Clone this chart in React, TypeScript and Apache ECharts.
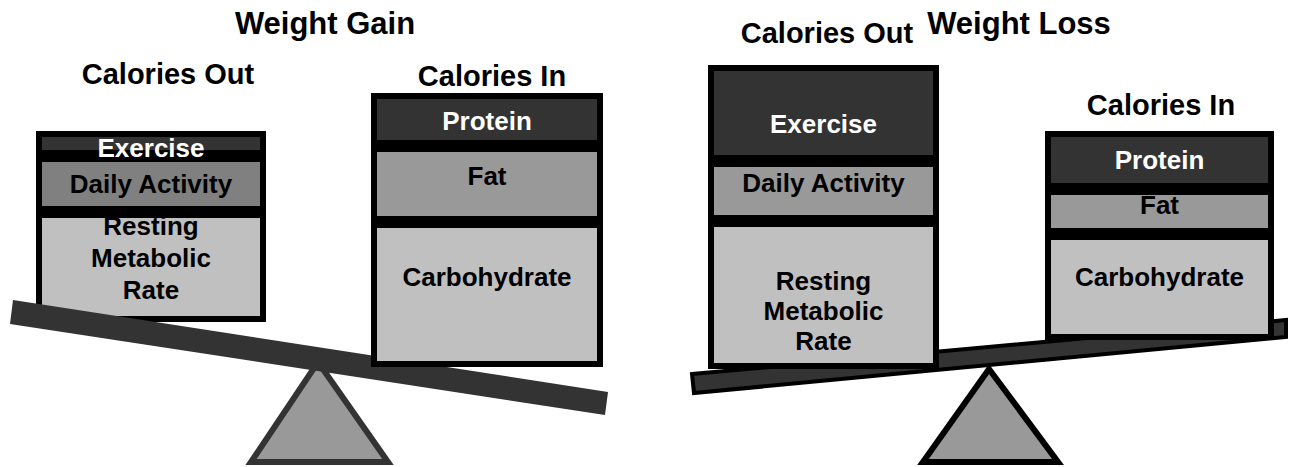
import React, { useEffect, useRef } from 'react';
import * as echarts from 'echarts';

// ---- data ----
const PANEL_TITLES = ['Weight Gain', 'Weight Loss'];
const SIDE_TITLES = ['Calories Out', 'Calories In'];
// segments listed bottom -> top
const OUT_CATEGORIES = ['Resting\nMetabolic\nRate', 'Daily Activity', 'Exercise'];
const IN_CATEGORIES = ['Carbohydrate', 'Fat', 'Protein'];
const GAIN_OUT = [110, 56, 25];
const GAIN_IN = [145, 76, 53];
const LOSS_OUT = [148, 60, 96];
const LOSS_IN = [106, 45, 58];

// ---- layout / style ----
const FONT = '"Liberation Sans", Arial, Helvetica, sans-serif';
const BOXES = [
  { left: 36, top: 131, width: 230, cats: OUT_CATEGORIES, values: GAIN_OUT, colors: ['#c0c0c0', '#808080', '#333333'], dy: [-9, 0, 4], lh: 32, z: 1 },
  { left: 371, top: 93, width: 232, cats: IN_CATEGORIES, values: GAIN_IN, colors: ['#c0c0c0', '#999999', '#333333'], dy: [-18, -8, 1], lh: 30, z: 5 },
  { left: 708, top: 65, width: 231, cats: OUT_CATEGORIES, values: LOSS_OUT, colors: ['#c0c0c0', '#999999', '#333333'], dy: [16, -8, 11], lh: 30, z: 5 },
  { left: 1045, top: 131, width: 229, cats: IN_CATEGORIES, values: LOSS_IN, colors: ['#c0c0c0', '#999999', '#333333'], dy: [-10, -7, 0], lh: 30, z: 5 },
];
const LABEL_COLORS = ['#000000', '#000000', '#ffffff'];

const TEXTS = [
  { text: PANEL_TITLES[0], x: 325, y: 23, size: 31 },
  { text: PANEL_TITLES[1], x: 1019, y: 23, size: 31 },
  { text: SIDE_TITLES[0], x: 168, y: 74, size: 29 },
  { text: SIDE_TITLES[1], x: 492, y: 76, size: 29 },
  { text: SIDE_TITLES[0], x: 827, y: 33, size: 29 },
  { text: SIDE_TITLES[1], x: 1161, y: 105, size: 29 },
];

function buildOption() {
  const grids: any[] = [];
  const xAxes: any[] = [];
  const yAxes: any[] = [];
  const series: any[] = [];
  BOXES.forEach((b, i) => {
    const total = b.values.reduce((a, v) => a + v, 0);
    grids.push({ left: b.left, top: b.top, width: b.width, height: total, containLabel: false, outerBoundsMode: 'none' });
    xAxes.push({ type: 'category', gridIndex: i, data: [''], show: false });
    yAxes.push({ type: 'value', gridIndex: i, min: 0, max: total, show: false });
    b.values.forEach((v, j) => {
      series.push({
        type: 'bar',
        name: b.cats[j] + i,
        xAxisIndex: i,
        yAxisIndex: i,
        stack: 'box' + i,
        barWidth: '100%',
        data: [v],
        z: b.z,
        silent: true,
        itemStyle: { color: b.colors[j], borderColor: '#000000', borderWidth: 6 },
        emphasis: { disabled: true },
        label: {
          show: true,
          position: 'inside',
          formatter: b.cats[j],
          offset: [0, b.dy[j]],
          color: LABEL_COLORS[j],
          fontSize: 26,
          fontWeight: 'bold',
          fontFamily: FONT,
          lineHeight: b.lh,
          textBorderWidth: 0,
          align: 'center',
        },
      });
    });
  });

  const graphic: any[] = [
    // fulcrums
    { type: 'polygon', z: 2, shape: { points: [[251, 462], [388, 462], [318, 362]] }, style: { fill: '#999999', stroke: '#333333', lineWidth: 6, lineJoin: 'miter' } },
    { type: 'polygon', z: 2, shape: { points: [[923, 462], [1058, 462], [989, 369]] }, style: { fill: '#999999', stroke: '#000000', lineWidth: 6, lineJoin: 'miter' } },
    // beams
    { type: 'polygon', z: 3, shape: { points: [[13, 300], [608, 392], [605, 415], [10, 324]] }, style: { fill: '#333333' } },
    { type: 'polygon', z: 3, shape: { points: [[692, 374], [1286, 320], [1286, 337], [694, 393]] }, style: { fill: '#333333', stroke: '#000000', lineWidth: 4 } },
  ];
  TEXTS.forEach((t) => {
    graphic.push({
      type: 'text',
      z: 10,
      x: t.x,
      y: t.y,
      style: {
        text: t.text,
        fill: '#000000',
        fontSize: t.size,
        fontWeight: 'bold',
        fontFamily: FONT,
        align: 'center',
        verticalAlign: 'middle',
        textAlign: 'center',
        textVerticalAlign: 'middle',
      },
    });
  });

  return {
    animation: false,
    backgroundColor: '#ffffff',
    grid: grids,
    xAxis: xAxes,
    yAxis: yAxes,
    series,
    graphic,
  };
}

export default function App() {
  const ref = useRef<HTMLDivElement>(null);
  useEffect(() => {
    if (!ref.current) return;
    const chart = echarts.init(ref.current, undefined, { renderer: 'svg' });
    chart.setOption(buildOption());
    return () => chart.dispose();
  }, []);
  return <div ref={ref} style={{ position: 'absolute', left: 0, top: 0, width: 1289, height: 467 }} />;
}
